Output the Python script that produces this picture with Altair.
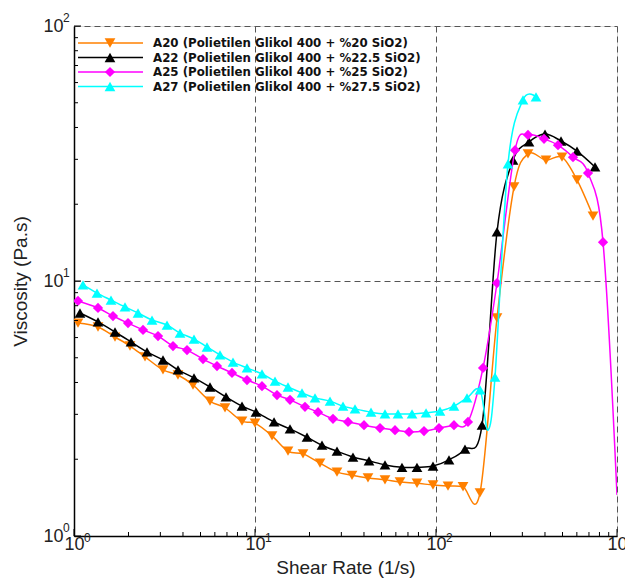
import altair as alt
import pandas as pd

# ---------------- data ----------------
series_names = ["A20", "A22", "A25", "A27"]
legend_labels = [
    "A20 (Polietilen Glikol 400 + %20 SiO2)",
    "A22 (Polietilen Glikol 400 + %22.5 SiO2)",
    "A25 (Polietilen Glikol 400 + %25 SiO2)",
    "A27 (Polietilen Glikol 400 + %27.5 SiO2)",
]
colors = ["#FF8000", "#000000", "#FF00FF", "#00FFFF"]
shapes = ["triangle-down", "triangle-up", "diamond", "triangle-up"]

a20_x = [1.052, 1.357, 1.685, 2.039, 2.468, 3.102, 3.754, 4.545, 5.641, 6.829, 8.477, 10.0,
         12.42, 15.22, 18.42, 22.87, 28.38, 34.36, 42.10, 52.27, 63.26, 78.52, 96.25, 116.5,
         141.0, 175.0, 217.3, 269.8, 322.3, 405.3, 496.7, 601.2, 737.0]
a20_y = [6.84, 6.60, 6.03, 5.56, 5.04, 4.48, 4.28, 3.91, 3.38, 3.18, 2.82, 2.77,
         2.47, 2.15, 2.10, 1.93, 1.78, 1.73, 1.69, 1.66, 1.63, 1.61, 1.585, 1.57,
         1.56, 1.475, 7.16, 23.4, 31.5, 29.8, 30.6, 24.9, 17.98]
a20_m = [1] * 33

a22_x = [1.079, 1.357, 1.685, 2.065, 2.531, 3.102, 3.754, 4.603, 5.641, 6.916, 8.477, 10.13,
         12.74, 15.61, 19.38, 23.45, 28.38, 34.78, 42.64, 52.27, 64.88, 78.52, 96.25, 118.0,
         144.6, 179.6, 217.3, 266.4, 326.4, 400.2, 490.6, 601.2, 756.1]
a22_y = [7.49, 6.91, 6.31, 5.77, 5.27, 4.90, 4.48, 4.17, 3.84, 3.51, 3.23, 3.06,
         2.80, 2.63, 2.44, 2.27, 2.15, 2.04, 1.97, 1.90, 1.86, 1.86, 1.88, 1.99,
         2.19, 2.72, 15.57, 29.8, 35.1, 37.7, 35.4, 32.3, 28.0]
a22_m = [1] * 33

a25_x = [1.052, 1.357, 1.642, 1.988, 2.406, 2.912, 3.524, 4.211, 5.162, 6.166, 7.464, 9.033,
         10.93, 13.23, 15.61, 18.89, 22.29, 26.97, 32.65, 40.02, 49.06, 59.36, 70.94, 85.84,
         103.9, 125.7, 150.2, 181.9, 217.3, 273.3, 322.3, 395.2, 472.1, 571.4, 691.6, 837.1, 1000.0]
a25_y = [8.35, 7.84, 7.29, 6.84, 6.43, 6.08, 5.56, 5.36, 4.94, 4.64, 4.36, 4.09,
         3.87, 3.57, 3.42, 3.21, 3.06, 2.88, 2.80, 2.72, 2.65, 2.60, 2.56, 2.58,
         2.65, 2.72, 2.80, 4.56, 9.82, 32.6, 37.4, 36.1, 34.1, 30.6, 26.5, 14.2, 1.45]
a25_m = [1] * 36 + [0]

a27_x = [1.121, 1.340, 1.601, 1.913, 2.258, 2.698, 3.265, 3.852, 4.603, 5.430, 6.408, 7.558,
         9.033, 10.93, 12.90, 15.22, 18.18, 21.46, 25.97, 30.64, 35.69, 43.75, 52.27, 61.67,
         73.72, 88.1, 105.2, 125.7, 148.4, 175.0, 193.8, 211.8, 249.9, 302.5, 356.9]
a27_y = [9.65, 8.97, 8.42, 7.91, 7.49, 7.03, 6.72, 6.25, 5.92, 5.51, 5.13, 4.81,
         4.56, 4.32, 4.05, 3.84, 3.64, 3.48, 3.38, 3.23, 3.15, 3.06, 3.01, 3.01,
         3.01, 3.04, 3.09, 3.23, 3.48, 3.74, 2.60, 4.20, 28.8, 51.3, 52.7]
a27_m = [1] * 30 + [0] + [1] * 4

x_major = [1, 10, 100, 1000]
x_exp = ["0", "1", "2", "3"]
y_major = [1, 10, 100]
y_exp = ["0", "1", "2"]
x_minor = [2, 3, 4, 5, 6, 7, 8, 9, 20, 30, 40, 50, 60, 70, 80, 90, 200, 300, 400, 500, 600, 700, 800, 900]
y_minor = [2, 3, 4, 5, 6, 7, 8, 9, 20, 30, 40, 50, 60, 70, 80, 90]

# ---------------- chart ----------------
W, H = 543, 510
FONT = "Liberation Sans"
TXT = "#222222"

xs = alt.Scale(type="log", domain=[1, 1000], nice=False)
ys = alt.Scale(type="log", domain=[1, 100], nice=False)

x_axis = alt.Axis(values=x_major, grid=True, gridDash=[6, 4], gridColor="#555555", gridWidth=1,
                  ticks=False, domainColor="#000000", domainWidth=1.5,
                  labelExpr="'10'", labelFont=FONT, labelFontSize=18, labelColor=TXT,
                  labelPadding=-1, labelFlush=False,
                  title="Shear Rate (1/s)", titleFont=FONT, titleFontSize=19,
                  titleFontWeight="normal", titleColor=TXT, titleBaseline="alphabetic", titleY=37)
y_axis = alt.Axis(values=y_major, grid=True, gridDash=[6, 4], gridColor="#555555", gridWidth=1,
                  ticks=False, domainColor="#000000", domainWidth=1.5,
                  labelExpr="'10'", labelFont=FONT, labelFontSize=18, labelColor=TXT,
                  labelPadding=11, labelFlush=False,
                  title="Viscosity (Pa.s)", titleFont=FONT, titleFontSize=19,
                  titleFontWeight="normal", titleColor=TXT, titlePadding=12)

all_series = [
    (a20_x, a20_y, a20_m),
    (a22_x, a22_y, a22_m),
    (a25_x, a25_y, a25_m),
    (a27_x, a27_y, a27_m),
]

layers = []
base_df = pd.DataFrame({"x": [1, 1000], "y": [1, 100]})
layers.append(
    alt.Chart(base_df).mark_point(opacity=0).encode(
        x=alt.X("x:Q", scale=xs, axis=x_axis),
        y=alt.Y("y:Q", scale=ys, axis=y_axis),
    )
)

MSIZE = [115, 115, 105, 115]
for i, (sx, sy, sm) in enumerate(all_series):
    df = pd.DataFrame({"x": sx, "y": sy, "m": sm})
    base = alt.Chart(df)
    line = base.mark_line(interpolate="cardinal", tension=0, color=colors[i], strokeWidth=1.5,
                          clip=True).encode(
        x=alt.X("x:Q", scale=xs), y=alt.Y("y:Q", scale=ys), order="x:Q")
    pts = base.transform_filter("datum.m == 1").mark_point(
        filled=True, shape=shapes[i], color=colors[i], size=MSIZE[i], opacity=1,
        clip=True).encode(x=alt.X("x:Q", scale=xs), y=alt.Y("y:Q", scale=ys))
    layers += [line, pts]

# inward ticks
layers.append(alt.Chart(pd.DataFrame({"v": x_minor})).mark_rule(color="#000000", strokeWidth=1).encode(
    x=alt.X("v:Q", scale=xs), y=alt.value(H), y2=alt.value(H - 4)))
layers.append(alt.Chart(pd.DataFrame({"v": x_major})).mark_rule(color="#000000", strokeWidth=1).encode(
    x=alt.X("v:Q", scale=xs), y=alt.value(H), y2=alt.value(H - 7)))
layers.append(alt.Chart(pd.DataFrame({"v": y_minor})).mark_rule(color="#000000", strokeWidth=1).encode(
    y=alt.Y("v:Q", scale=ys), x=alt.value(0), x2=alt.value(4)))
layers.append(alt.Chart(pd.DataFrame({"v": y_major})).mark_rule(color="#000000", strokeWidth=1).encode(
    y=alt.Y("v:Q", scale=ys), x=alt.value(0), x2=alt.value(7)))

# exponents of the tick labels
layers.append(alt.Chart(pd.DataFrame({"v": x_major, "e": x_exp})).mark_text(
    align="left", baseline="top", font=FONT, fontSize=12, color=TXT, dx=10, dy=-3).encode(
    x=alt.X("v:Q", scale=xs), y=alt.value(H), text="e:N"))
layers.append(alt.Chart(pd.DataFrame({"v": y_major, "e": y_exp})).mark_text(
    align="left", baseline="middle", font=FONT, fontSize=12, color=TXT, dy=-8).encode(
    y=alt.Y("v:Q", scale=ys), x=alt.value(-11), text="e:N"))

# legend (inside top-left)
row_y = [17, 31.5, 46, 60.5]
for i in range(4):
    lb = alt.Chart(pd.DataFrame({"label": [legend_labels[i]]}))
    layers.append(lb.mark_rule(color=colors[i], strokeWidth=1.5).encode(
        x=alt.value(4), x2=alt.value(69), y=alt.value(row_y[i])))
    layers.append(lb.mark_point(filled=True, shape=shapes[i], color=colors[i],
                                size=MSIZE[i], opacity=1).encode(
        x=alt.value(36), y=alt.value(row_y[i])))
    layers.append(lb.mark_text(align="left", baseline="middle", font="DejaVu Sans", fontSize=11.8,
                               fontWeight="bold", color="#111111").encode(
        x=alt.value(79), y=alt.value(row_y[i]), text="label:N"))

chart = alt.layer(*layers).properties(
    width=W, height=H,
    autosize=alt.AutoSizeParams(type="none"),
    padding={"left": 66, "top": 18, "right": 8, "bottom": 44},
).configure_view(stroke="#808080", strokeWidth=1).configure(background="white")

chart.save("out.html", embed_options={"renderer": "svg", "actions": False})
